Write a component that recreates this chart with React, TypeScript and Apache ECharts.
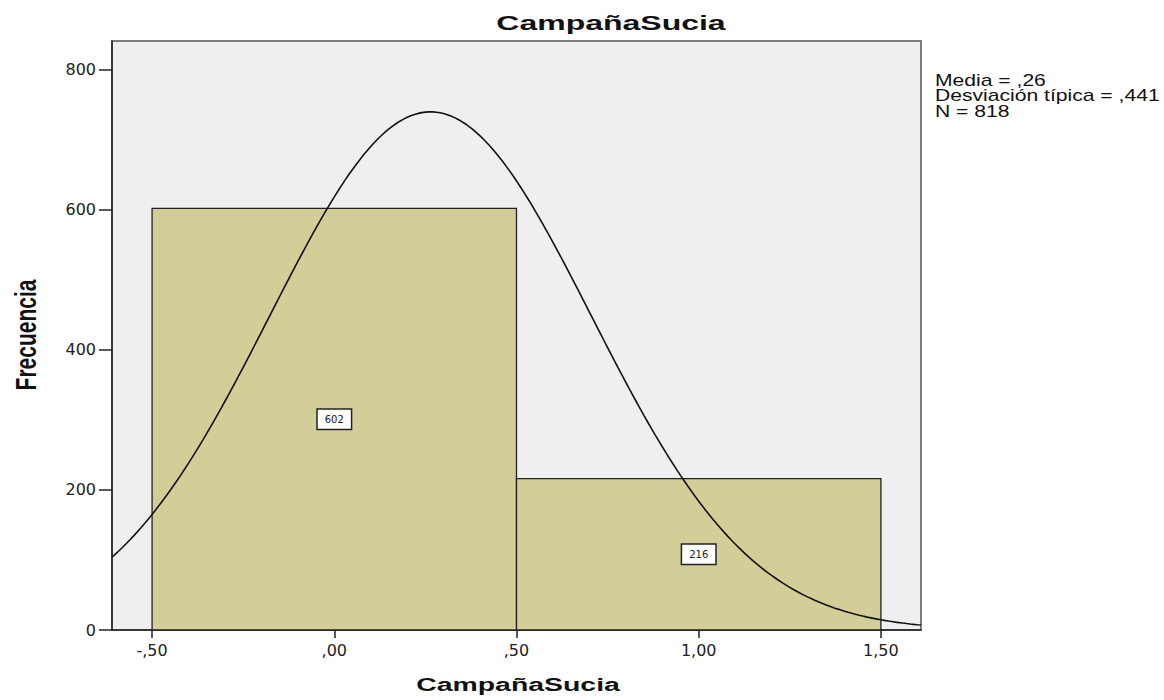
import React, { useEffect, useRef } from "react";
import * as echarts from "echarts";

// ---- data ----
const binStarts = [-0.5, 0.5];
const binEnds = [0.5, 1.5];
const binCenters = [0, 1];
const frequencies = [602, 216];
const xTickValues = [-0.5, 0, 0.5, 1, 1.5];
const yTickValues = [0, 200, 400, 600, 800];
const statLines = ["Media = ,26", "Desviación típica = ,441", "N = 818"];
const chartTitle = "CampañaSucia";
const xName = "CampañaSucia";
const yName = "Frecuencia";

// fitted normal curve from the histogram's own statistics
const N = frequencies.reduce((a, b) => a + b, 0);
const mean = frequencies.reduce((s, f, i) => s + f * binCenters[i], 0) / N;
const sd = Math.sqrt(
  frequencies.reduce((s, f, i) => s + f * (binCenters[i] - mean) ** 2, 0) / (N - 1)
);
const binWidth = binEnds[0] - binStarts[0];
const X_MIN = -0.61;
const X_MAX = 1.61;
const curveXs: number[] = [];
for (let i = 0; i <= 222; i++) curveXs.push(X_MIN + (i * (X_MAX - X_MIN)) / 222);
const curve = curveXs.map((x) => [
  x,
  ((N * binWidth) / (sd * Math.sqrt(2 * Math.PI))) * Math.exp(-((x - mean) ** 2) / (2 * sd * sd)),
]);

const fmtX = (v: number) => v.toFixed(2).replace(".", ",").replace(/^(-?)0,/, "$1,");

export default function App() {
  const ref = useRef<HTMLDivElement>(null);
  useEffect(() => {
    if (!ref.current) return;
    const chart = echarts.init(ref.current, undefined, { renderer: "svg" });
    const barData = frequencies.map((f, i) => [binStarts[i], binEnds[i], f]);
    chart.setOption({
      animation: false,
      backgroundColor: "#ffffff",
      grid: {
        left: 112,
        right: 243,
        top: 41,
        bottom: 70,
        show: true,
        backgroundColor: "#efefef",
        borderColor: "#555555",
        borderWidth: 1.5,
      },
      xAxis: {
        type: "value",
        min: X_MIN,
        max: X_MAX,
        splitLine: { show: false },
        axisLine: { show: true, onZero: false, lineStyle: { color: "#222", width: 1.5 } },
        axisTick: { show: true, length: 8, customValues: xTickValues, lineStyle: { color: "#222", width: 1.5 } },
        axisLabel: {
          customValues: xTickValues,
          formatter: (v: number) => fmtX(v),
          color: "#222",
          fontFamily: "DejaVu Sans",
          fontSize: 16,
          margin: 12,
        },
      },
      yAxis: {
        type: "value",
        min: 0,
        max: 841,
        splitLine: { show: false },
        axisLine: { show: true, onZero: false, lineStyle: { color: "#222", width: 1.5 } },
        axisTick: { show: true, length: 13, customValues: yTickValues, lineStyle: { color: "#222", width: 1.5 } },
        axisLabel: {
          customValues: yTickValues,
          color: "#222",
          fontFamily: "DejaVu Sans",
          fontSize: 16,
          margin: 16,
        },
      },
      series: [
        {
          type: "custom",
          data: barData,
          encode: { x: [0, 1], y: 2 },
          renderItem: (_params: any, api: any) => {
            const x0 = api.value(0);
            const x1 = api.value(1);
            const v = api.value(2);
            const p0 = api.coord([x0, v]);
            const p1 = api.coord([x1, 0]);
            const c = api.coord([(x0 + x1) / 2, v / 2]);
            return {
              type: "group",
              children: [
                {
                  type: "rect",
                  shape: { x: p0[0], y: p0[1], width: p1[0] - p0[0], height: p1[1] - p0[1] },
                  style: { fill: "#d3ce98", stroke: "#222", lineWidth: 1.3 },
                },
                {
                  type: "text",
                  x: c[0],
                  y: c[1],
                  z2: 10,
                  style: {
                    text: String(v),
                    align: "center",
                    verticalAlign: "middle",
                    fontFamily: "DejaVu Sans",
                    fontSize: 10,
                    fill: "#222",
                    backgroundColor: "#ffffff",
                    borderColor: "#222",
                    borderWidth: 1.5,
                    padding: [5, 7, 4, 7],
                  },
                },
              ],
            };
          },
        },
        {
          type: "line",
          data: curve,
          showSymbol: false,
          symbol: "none",
          clip: true,
          lineStyle: { color: "#111", width: 1.6 },
          z: 3,
        },
      ],
      graphic: [
        {
          type: "text",
          x: 611,
          y: 23,
          scaleX: 1.6,
          style: {
            text: chartTitle,
            align: "center",
            verticalAlign: "middle",
            fontFamily: "Liberation Sans",
            fontWeight: "bold",
            fontSize: 20,
            fill: "#111",
          },
        },
        {
          type: "text",
          x: 518,
          y: 685,
          scaleX: 1.58,
          style: {
            text: xName,
            align: "center",
            verticalAlign: "middle",
            fontFamily: "Liberation Sans",
            fontWeight: "bold",
            fontSize: 18,
            fill: "#111",
          },
        },
        {
          type: "text",
          x: 26,
          y: 335,
          rotation: Math.PI / 2,
          scaleY: 1.4,
          style: {
            text: yName,
            align: "center",
            verticalAlign: "middle",
            fontFamily: "Liberation Sans",
            fontWeight: "bold",
            fontSize: 21,
            fill: "#111",
          },
        },
        ...statLines.map((t, i) => ({
          type: "text",
          x: 935,
          y: 80 + i * 15.5,
          scaleX: 1.32,
          style: {
            text: t,
            align: "left",
            verticalAlign: "middle",
            fontFamily: "Liberation Sans",
            fontSize: 16,
            fill: "#111",
          },
        })),
      ],
    });
    return () => chart.dispose();
  }, []);
  return (
    <div
      ref={ref}
      style={{ position: "fixed", left: 0, top: 0, width: 1164, height: 700 }}
    />
  );
}
